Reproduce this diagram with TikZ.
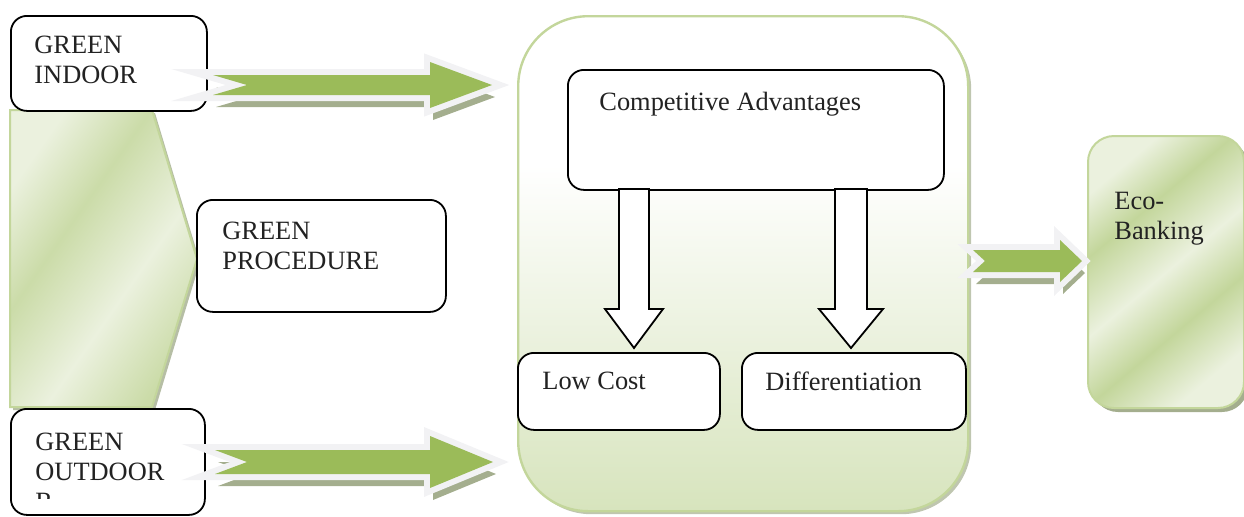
\documentclass[tikz,border=0pt]{standalone}
\usepackage{fontspec}
\setmainfont{Liberation Serif}
\usetikzlibrary{calc,shadows}

\definecolor{arrowgreen}{HTML}{9BBB59}
\definecolor{glight}{HTML}{EBF1DE}
\definecolor{gmid}{HTML}{D7E4BD}
\definecolor{gdark}{HTML}{C3D69B}
\definecolor{gline}{HTML}{C3D69B}
\definecolor{shadowc}{HTML}{A4AE8E}
\definecolor{rimc}{HTML}{F2F2F4}
\definecolor{inkc}{HTML}{222222}

\pgfdeclareverticalshading{panelshade}{100bp}{color(0bp)=(gmid); color(25bp)=(gmid); color(60bp)=(white); color(100bp)=(white)}
\pgfdeclarehorizontalshading{chevshade}{100bp}{color(0bp)=(glight); color(25bp)=(glight); color(40bp)=(gdark!80!glight); color(58bp)=(glight); color(75bp)=(gdark!80!glight); color(100bp)=(gdark)}
\pgfdeclarehorizontalshading{ecoshade}{100bp}{color(0bp)=(glight); color(25bp)=(glight); color(36bp)=(gdark); color(50bp)=(glight); color(62bp)=(gdark); color(75bp)=(glight); color(100bp)=(glight)}

\tikzset{
  box/.style={draw=black, line width=0.9pt, rounded corners=8pt, fill=white, anchor=north west, inner sep=0pt},
  txt/.style={anchor=north west, inner sep=0pt, align=left, text=inkc, font=\fontsize{13.2}{15}\selectfont},
  fatarrow/.style={fill=arrowgreen,
    drop shadow={shadow xshift=1.5pt, shadow yshift=-6pt, fill=shadowc, opacity=1},
    preaction={draw=rimc, line width=6pt, miter limit=10}},
  hollow/.style={draw=black, line width=0.9pt, fill=white},
  panel/.style={draw=gline, line width=1.2pt, rounded corners=35pt, shading=panelshade, anchor=north west,
    inner sep=0pt, drop shadow={shadow xshift=1.5pt, shadow yshift=-1.5pt, fill=shadowc, opacity=0.7}},
  chevron/.style={draw=gline, line width=1pt, shading=chevshade, shading angle=-35,
    drop shadow={shadow xshift=1.5pt, shadow yshift=-1.5pt, fill=shadowc, opacity=0.8}},
  ecobox/.style={draw=gline, line width=1pt, rounded corners=13pt, shading=ecoshade, shading angle=-50,
    anchor=north west, inner sep=0pt, drop shadow={shadow xshift=2pt, shadow yshift=-2pt, fill=shadowc, opacity=1}},
}

% tail, tip, shaft half, head half, head length, notch
\newcommand{\notcharrow}[6]{%
  \path[fatarrow] ($(#1)+(0,-#3)$) -- ($(#2)+(-#5,-#3)$) -- ($(#2)+(-#5,-#4)$) -- (#2)
    -- ($(#2)+(-#5,#4)$) -- ($(#2)+(-#5,#3)$) -- ($(#1)+(0,#3)$) -- ($(#1)+(#6,0)$) -- cycle;}
% top, tip, shaft half, head half, head length
\newcommand{\blockdown}[5]{%
  \draw[hollow] ($(#1)+(-#3,0)$) -- ($(#2)+(-#3,-#5)$) -- ($(#2)+(-#4,-#5)$) -- (#2)
    -- ($(#2)+(#4,-#5)$) -- ($(#2)+(#3,-#5)$) -- ($(#1)+(#3,0)$) -- cycle;}

\begin{document}
\begin{tikzpicture}[x=0.5pt, y=-0.5pt]
  \useasboundingbox (0,0) rectangle (1244,516);

  % middle panel
  \node[panel, minimum width=225pt, minimum height=247.5pt] (cont) at (517,15) {};

  % left chevron
  \path[chevron] (10,110) -- (152,110) -- (197,259) -- (152,407) -- (10,407) -- cycle;

  % boxes
  \node[box, minimum width=98pt, minimum height=47.5pt] (ind) at (10,15) {};
  \node[box, minimum width=124.5pt, minimum height=56pt] (proc) at (196,199) {};
  \node[box, minimum width=97pt, minimum height=53pt] (out) at (10,408) {};
  \node[box, minimum width=188pt, minimum height=60pt] (comp) at (567,69) {};
  \node[box, minimum width=101pt, minimum height=38.5pt] (lowc) at (517,352) {};
  \node[box, minimum width=112pt, minimum height=38.5pt] (diff) at (741,352) {};
  \node[ecobox, minimum width=78pt, minimum height=136pt] (eco) at (1087,135) {};

  % texts
  \node[txt] (indt) at (34,36) {GREEN\\INDOOR};
  \node[txt] (proct) at (222,222) {GREEN\\PROCEDURE};
  \begin{scope}
    \clip (10,408) rectangle (204,498);
    \node[txt] (outt) at (35,433) {GREEN\\OUTDOOR\\R};
  \end{scope}
  \node[txt] (compt) at (599,92) {Competitive Advantages};
  \node[txt] (lowct) at (542,372) {Low Cost};
  \node[txt] (difft) at (765,372) {Differentiation};
  \node[txt] (ecot) at (1114,192) {Eco-\\Banking};

  % down arrows
  \coordinate (dA) at (634,189);
  \coordinate (dAtip) at (634,348);
  \coordinate (dB) at (851,189);
  \coordinate (dBtip) at (851,348);
  \blockdown{dA}{dAtip}{15}{29}{39}
  \blockdown{dB}{dBtip}{16}{32}{39}

  % green arrows
  \coordinate (a1) at (213,85);
  \coordinate (a1tip) at (492,85);
  \coordinate (a2) at (215,462);
  \coordinate (a2tip) at (493,462);
  \coordinate (a3) at (973,261);
  \coordinate (a3tip) at (1082,261);
  \notcharrow{a1}{a1tip}{10}{23}{62}{34}
  \notcharrow{a2}{a2tip}{12}{26}{63}{32}
  \notcharrow{a3}{a3tip}{11}{21}{22}{12}
\end{tikzpicture}
\end{document}
